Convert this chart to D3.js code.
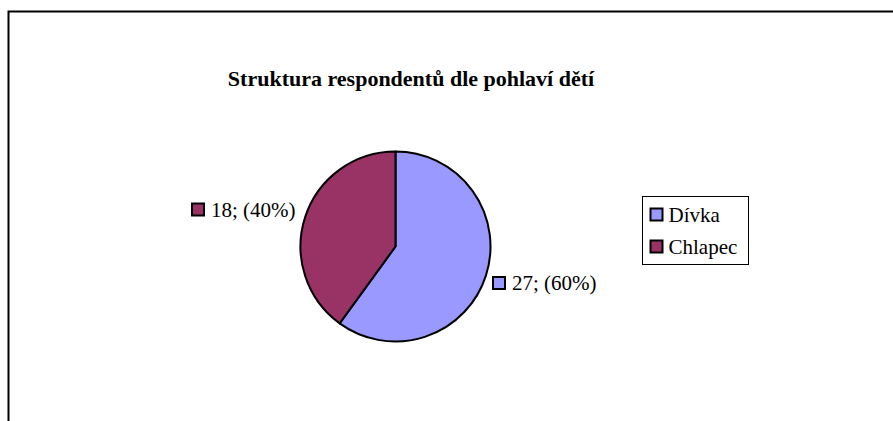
<!DOCTYPE html>
<html>
<head>
<meta charset="utf-8">
<script src="https://cdn.jsdelivr.net/npm/d3@7"></script>
<style>
  body { margin: 0; background: #fff; }
  svg text { font-family: "Liberation Serif", "DejaVu Serif", serif; }
</style>
</head>
<body>
<div id="chart"></div>
<script>
const categories = ['Dívka', 'Chlapec'];
const counts = [27, 18];
const colors = ['#9999FF', '#993366'];
const title = 'Struktura respondentů dle pohlaví dětí';

const width = 893, height = 421;

let svg = d3.select('#chart')
  .append('svg')
  .attr('width', width)
  .attr('height', height);

// chart frame (cut off at right and bottom)
svg.append('path')
  .attr('d', 'M8.5,421 V11.5 H893')
  .attr('fill', 'none')
  .attr('stroke', '#000')
  .attr('stroke-width', 2);

svg.append('text')
  .attr('x', 411)
  .attr('y', 86)
  .attr('text-anchor', 'middle')
  .style('font-weight', 'bold')
  .style('font-size', '22px')
  .text(title);

let data = categories.map((c, i) => ({ name: c, value: counts[i], color: colors[i] }));
let total = d3.sum(counts);

let cx = 395.5, cy = 246.5, r = 95;

let pie = d3.pie().sort(null).value(d => d.value);
let arc = d3.arc().innerRadius(0).outerRadius(r);
let arcs = pie(data);

let g = svg.append('g')
  .attr('transform', `translate(${cx}, ${cy})`);

g.selectAll('.slice')
  .data(arcs)
  .enter()
  .append('path')
  .attr('class', 'slice')
  .attr('d', arc)
  .attr('fill', d => d.data.color)
  .attr('stroke', '#000')
  .attr('stroke-width', 2)
  .attr('stroke-linejoin', 'round');

// data labels, placed outside the slices
let labelPos = [
  { x: 493, y: 277 },
  { x: 192, y: 203.5 }
];

let lab = svg.selectAll('.lab')
  .data(arcs)
  .enter()
  .append('g')
  .attr('class', 'lab')
  .attr('transform', (d, i) => `translate(${labelPos[i].x}, ${labelPos[i].y})`);

lab.append('rect')
  .attr('width', 12)
  .attr('height', 12)
  .attr('fill', d => d.data.color)
  .attr('stroke', '#000')
  .attr('stroke-width', 2);

lab.append('text')
  .attr('x', 19)
  .attr('y', 13)
  .style('font-size', '21px')
  .text(d => `${d.data.value}; (${Math.round(d.data.value / total * 100)}%)`);

// legend
let legend = svg.append('g')
  .attr('transform', 'translate(642.5, 196.5)');

legend.append('rect')
  .attr('width', 106)
  .attr('height', 68)
  .attr('fill', '#fff')
  .attr('stroke', '#000')
  .attr('stroke-width', 1);

let item = legend.selectAll('.item')
  .data(data)
  .enter()
  .append('g')
  .attr('class', 'item')
  .attr('transform', (d, i) => `translate(8, ${12 + i * 32})`);

item.append('rect')
  .attr('width', 12)
  .attr('height', 12)
  .attr('fill', d => d.color)
  .attr('stroke', '#000')
  .attr('stroke-width', 2);

item.append('text')
  .attr('x', 18)
  .attr('y', 13.5)
  .style('font-size', '21px')
  .text(d => d.name);
</script>
</body>
</html>
